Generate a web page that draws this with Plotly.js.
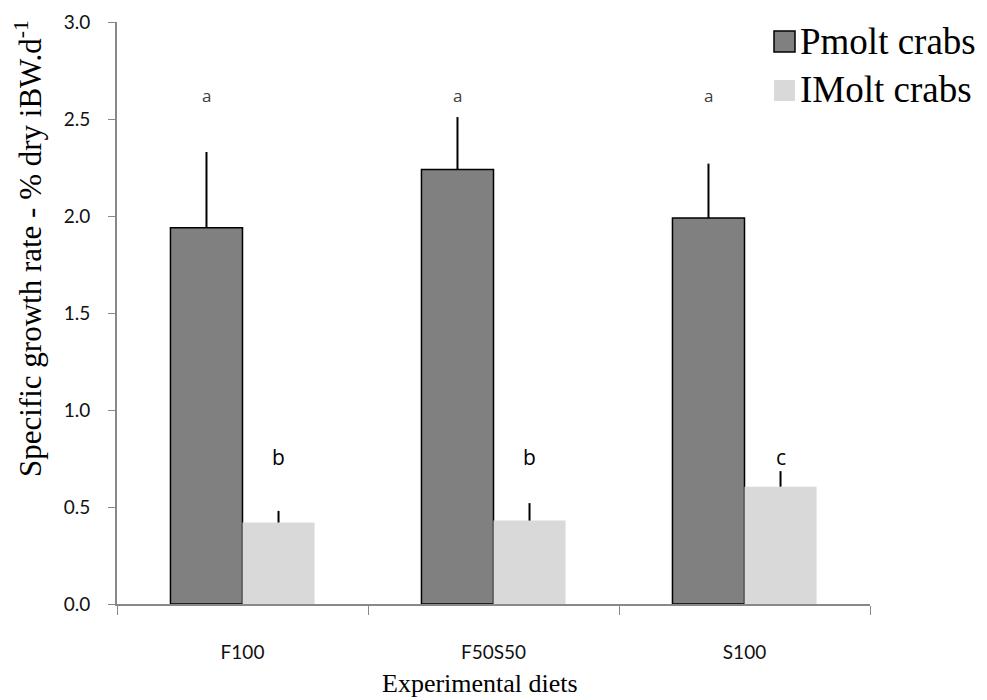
<!DOCTYPE html>
<html>
<head>
<meta charset="utf-8">
<script src="https://cdn.plot.ly/plotly-3.0.1.min.js"></script>
<style>html,body{margin:0;padding:0;background:#fff;}#chart{width:987px;height:700px;}</style>
</head>
<body>
<div id="chart"></div>
<script>
var diets = ["F100", "F50S50", "S100"];
var seriesNames = ["Pmolt crabs", "IMolt crabs"];
var pmoltValues = [1.94, 2.24, 1.99];
var pmoltErrors = [0.39, 0.27, 0.28];
var imoltValues = [0.42, 0.43, 0.605];
var imoltErrors = [0.06, 0.09, 0.08];
var pmoltLetters = ["a", "a", "a"];
var imoltLetters = ["b", "b", "c"];
var yTickVals = [0, 0.5, 1.0, 1.5, 2.0, 2.5, 3.0];
var yTickText = ["0.0", "0.5", "1.0", "1.5", "2.0", "2.5", "3.0"];

var darkColor = "#808080", lightColor = "#d9d9d9";

var traces = [
  {
    type: "bar", name: seriesNames[0], x: diets, y: pmoltValues, showlegend: false,
    marker: {color: darkColor, line: {color: "#000000", width: 1.5}},
    error_y: {type: "data", symmetric: false, array: pmoltErrors, arrayminus: [0,0,0], color: "#000000", thickness: 2, width: 0}
  },
  {
    type: "bar", name: seriesNames[1], x: diets, y: imoltValues, showlegend: false,
    marker: {color: lightColor, line: {color: lightColor, width: 0}},
    error_y: {type: "data", symmetric: false, array: imoltErrors, arrayminus: [0,0,0], color: "#000000", thickness: 2, width: 0}
  }
];

// pixel helpers for the legend/title placement (plot area: x 117..870, y 22..604)
function px(x) { return (x - 117) / 753; }
function py(y) { return (604 - y) / 582; }

var annotations = [];
for (var i = 0; i < diets.length; i++) {
  annotations.push({x: diets[i], y: 2.62, xref: "x", yref: "y", text: pmoltLetters[i], showarrow: false, xshift: -36,
    font: {family: "Open Sans, sans-serif", size: 17, color: "#404040"}});
  annotations.push({x: diets[i], y: 0.76, xref: "x", yref: "y", text: imoltLetters[i], showarrow: false, xshift: 36,
    font: {family: "Open Sans, sans-serif", size: 21, color: "#000000"}});
}
// axis titles
annotations.push({xref: "paper", yref: "paper", x: px(29), y: py(249), text: "Specific growth rate - % dry iBW.d<sup>-1</sup>",
  textangle: -90, showarrow: false, xanchor: "center", yanchor: "middle",
  font: {family: "Liberation Serif, serif", size: 31, color: "#000000"}});
annotations.push({xref: "paper", yref: "paper", x: px(480), y: py(683), text: "Experimental diets",
  showarrow: false, xanchor: "center", yanchor: "middle",
  font: {family: "Liberation Serif, serif", size: 26, color: "#000000"}});
// legend text
annotations.push({xref: "paper", yref: "paper", x: px(798), y: py(41), text: seriesNames[0], showarrow: false,
  xanchor: "left", yanchor: "middle", font: {family: "Liberation Serif, serif", size: 37, color: "#000000"}});
annotations.push({xref: "paper", yref: "paper", x: px(798), y: py(89), text: seriesNames[1], showarrow: false,
  xanchor: "left", yanchor: "middle", font: {family: "Liberation Serif, serif", size: 37, color: "#000000"}});

var shapes = [
  {type: "rect", xref: "paper", yref: "paper", x0: px(774), x1: px(795), y0: py(52), y1: py(31),
    fillcolor: darkColor, line: {color: "#000000", width: 1.5}},
  {type: "rect", xref: "paper", yref: "paper", x0: px(774), x1: px(795), y0: py(101), y1: py(80),
    fillcolor: lightColor, line: {width: 0}}
];

var layout = {
  width: 987, height: 700,
  margin: {l: 117, r: 117, t: 22, b: 96},
  paper_bgcolor: "#ffffff", plot_bgcolor: "#ffffff",
  barmode: "group", bargap: 0.426, bargroupgap: 0,
  showlegend: false,
  xaxis: {
    type: "category", showline: true, linecolor: "#888888", linewidth: 2,
    ticks: "outside", tickson: "boundaries", ticklen: 9, tickcolor: "#888888", tickwidth: 1,
    showgrid: false, zeroline: false, ticklabelstandoff: 30,
    tickfont: {family: "Lato, sans-serif", size: 19, color: "#111111"}
  },
  yaxis: {
    range: [0, 3.0], showline: true, linecolor: "#888888", linewidth: 2,
    ticks: "outside", ticklen: 7, tickcolor: "#888888", tickwidth: 1,
    tickvals: yTickVals, ticktext: yTickText, ticklabelstandoff: 14,
    showgrid: false, zeroline: false,
    tickfont: {family: "Lato, sans-serif", size: 19, color: "#111111"}
  },
  annotations: annotations,
  shapes: shapes
};

Plotly.newPlot("chart", traces, layout, {displayModeBar: false, staticPlot: true});
</script>
</body>
</html>
